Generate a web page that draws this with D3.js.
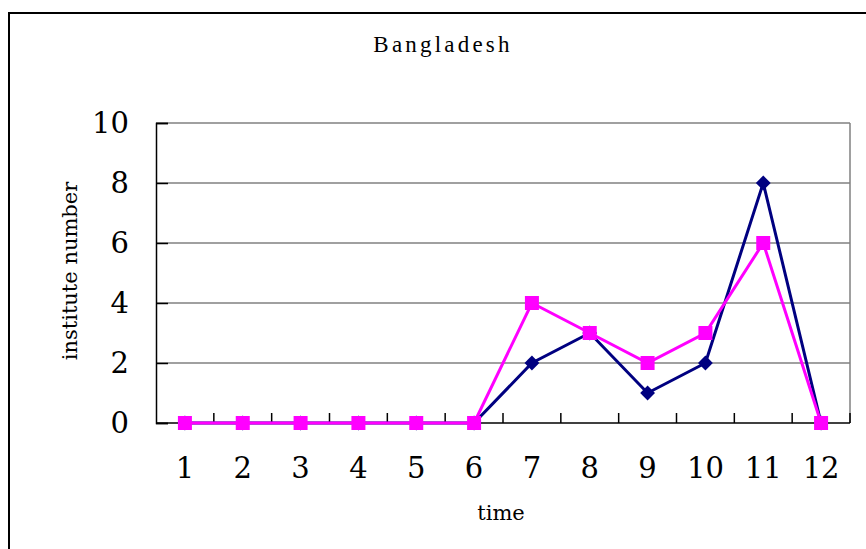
<!DOCTYPE html>
<html lang="en">
	<head>
		<meta charset="utf-8">
		<title>Bangladesh</title>
		<script src="https://cdn.jsdelivr.net/npm/d3@7"></script>
		<style>
			body { margin: 0; background: #fff; }
			svg text { font-family: "DejaVu Serif", serif; fill: #000; }
		</style>
	</head>
	<body>
		<script>

			// data
			var times = ["1", "2", "3", "4", "5", "6", "7", "8", "9", "10", "11", "12"];
			var blueSeries = [0, 0, 0, 0, 0, 0, 2, 3, 1, 2, 8, 0];
			var pinkSeries = [0, 0, 0, 0, 0, 0, 4, 3, 2, 3, 6, 0];
			var yTicks = [0, 2, 4, 6, 8, 10];

			var w = 866, h = 549;
			var plot = { left: 156, top: 123, right: 850, bottom: 423 };

			var svg = d3.select("body").append("svg")
				.attr("width", w)
				.attr("height", h);

			// outer chart border (runs off the right and bottom)
			svg.append("rect")
				.attr("x", 9).attr("y", 13)
				.attr("width", 880).attr("height", 580)
				.attr("fill", "none")
				.attr("stroke", "#000")
				.attr("stroke-width", 2);

			var x = d3.scaleBand()
				.domain(times)
				.range([plot.left, plot.right]);

			var y = d3.scaleLinear()
				.domain([0, 10])
				.range([plot.bottom, plot.top]);

			// gridlines
			svg.append("g").selectAll("line")
				.data(yTicks.filter(function(d) { return d > 0; }))
				.enter().append("line")
				.attr("x1", plot.left).attr("x2", plot.right)
				.attr("y1", function(d) { return y(d); })
				.attr("y2", function(d) { return y(d); })
				.attr("stroke", "#808080")
				.attr("stroke-width", 1.5);

			// right border of plot area
			svg.append("line")
				.attr("x1", plot.right).attr("x2", plot.right)
				.attr("y1", plot.top).attr("y2", plot.bottom)
				.attr("stroke", "#808080")
				.attr("stroke-width", 1.5);

			// y axis, ticks inside
			var yAxis = svg.append("g")
				.attr("transform", "translate(" + plot.left + ",0)")
				.call(d3.axisRight(y).tickValues(yTicks).tickSize(12).tickFormat(""));
			yAxis.select(".domain").attr("stroke", "#000").attr("stroke-width", 1.5);
			yAxis.selectAll(".tick line").attr("stroke", "#000").attr("stroke-width", 1.5);

			svg.append("g").selectAll("text")
				.data(yTicks)
				.enter().append("text")
				.attr("x", 129)
				.attr("y", function(d) { return y(d); })
				.attr("dy", "0.36em")
				.attr("text-anchor", "end")
				.style("font-size", "29px")
				.text(function(d) { return d; });

			// x axis, ticks at category boundaries pointing up
			var bounds = times.map(function(t) { return x(t) + x.bandwidth(); });
			svg.append("line")
				.attr("x1", plot.left).attr("x2", plot.right)
				.attr("y1", plot.bottom).attr("y2", plot.bottom)
				.attr("stroke", "#000")
				.attr("stroke-width", 1.5);
			svg.append("g").selectAll("line")
				.data(bounds)
				.enter().append("line")
				.attr("x1", function(d) { return d; })
				.attr("x2", function(d) { return d; })
				.attr("y1", plot.bottom).attr("y2", plot.bottom - 10)
				.attr("stroke", "#000")
				.attr("stroke-width", 1.5);

			svg.append("g").selectAll("text")
				.data(times)
				.enter().append("text")
				.attr("x", function(d) { return x(d) + x.bandwidth() / 2; })
				.attr("y", 478)
				.attr("text-anchor", "middle")
				.style("font-size", "29px")
				.text(function(d) { return d; });

			// titles
			svg.append("text")
				.attr("x", 443).attr("y", 52)
				.attr("text-anchor", "middle")
				.style("font-family", "'Liberation Serif', serif")
				.style("font-size", "23px")
				.style("letter-spacing", "3.2px")
				.text("Bangladesh");

			svg.append("text")
				.attr("x", 501).attr("y", 520)
				.attr("text-anchor", "middle")
				.style("font-size", "21px")
				.text("time");

			svg.append("text")
				.attr("transform", "translate(77,271) rotate(-90)")
				.attr("text-anchor", "middle")
				.style("font-size", "21px")
				.text("institute number");

			var cx = function(d, i) { return x(times[i]) + x.bandwidth() / 2; };
			var line = d3.line()
				.x(function(d, i) { return cx(d, i); })
				.y(function(d) { return y(d); });

			// navy series with diamonds
			svg.append("path")
				.datum(blueSeries)
				.attr("d", line)
				.attr("fill", "none")
				.attr("stroke", "#000080")
				.attr("stroke-width", 3);
			svg.append("g").selectAll("path")
				.data(blueSeries)
				.enter().append("path")
				.attr("d", d3.symbol().type(d3.symbolDiamond2).size(140))
				.attr("transform", function(d, i) { return "translate(" + cx(d, i) + "," + y(d) + ")"; })
				.attr("fill", "#000080");

			// magenta series with squares
			svg.append("path")
				.datum(pinkSeries)
				.attr("d", line)
				.attr("fill", "none")
				.attr("stroke", "#ff00ff")
				.attr("stroke-width", 3);
			svg.append("g").selectAll("rect")
				.data(pinkSeries)
				.enter().append("rect")
				.attr("x", function(d, i) { return cx(d, i) - 7; })
				.attr("y", function(d) { return y(d) - 7; })
				.attr("width", 14).attr("height", 14)
				.attr("fill", "#ff00ff");

		</script>
	</body>
</html>
